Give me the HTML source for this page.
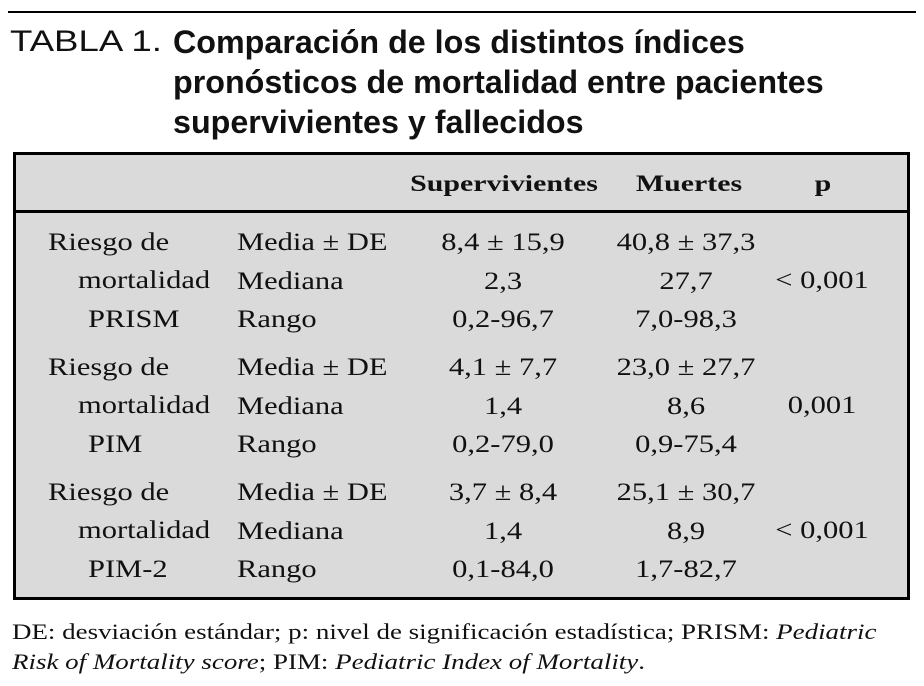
<!DOCTYPE html>
<html><head><meta charset="utf-8"><style>
body{margin:0;width:924px;height:686px;background:#fff;position:relative;overflow:hidden;font-family:"Liberation Serif",serif;color:#111}
.a{position:absolute;white-space:nowrap}
.s{font-size:25px;transform-origin:left center;transform:scaleX(1.22)}
.s.c{transform-origin:center center;transform:translateX(-50%) scaleX(1.22)}
.h{font-weight:bold;font-size:23px;transform-origin:center center;transform:translateX(-50%) scaleX(1.3)}
.t{font-family:"Liberation Sans",sans-serif}
</style></head><body>
<div style="position:absolute;left:8px;top:11px;width:908px;height:2px;background:#000"></div>
<div class="a t" style="left:10px;top:25px;font-size:30px;transform-origin:left center;transform:scaleX(1.22)">TABLA 1.</div>
<div class="a t" style="left:173px;top:22px;font-weight:bold;font-size:32px;line-height:40px;transform-origin:left top;transform:scaleX(1.008)">Comparación de los distintos índices<br>pronósticos de mortalidad entre pacientes<br>supervivientes y fallecidos</div>
<div style="position:absolute;left:13px;top:152px;width:891px;height:442px;border:3px solid #000;background:#dadada"></div>
<div style="position:absolute;left:13px;top:210px;width:897px;height:3px;background:#000"></div>
<div class="a h" style="left:504px;top:171px">Supervivientes</div>
<div class="a h" style="left:689px;top:171px">Muertes</div>
<div class="a h" style="left:823px;top:171px">p</div>
<div class="a" style="left:12px;top:617px;font-size:22px;line-height:30px;transform-origin:left top;transform:scaleX(1.225)">DE: desviación estándar; p: nivel de significación estadística; PRISM: <i>Pediatric</i><br><i>Risk of Mortality score</i>; PIM: <i>Pediatric Index of Mortality</i>.</div>
<script>
const groups=["PRISM","PIM","PIM-2"];
const statLabels=["Media ± DE","Mediana","Rango"];
const surv=[["8,4 ± 15,9","2,3","0,2-96,7"],["4,1 ± 7,7","1,4","0,2-79,0"],["3,7 ± 8,4","1,4","0,1-84,0"]];
const dead=[["40,8 ± 37,3","27,7","7,0-98,3"],["23,0 ± 27,7","8,6","0,9-75,4"],["25,1 ± 30,7","8,9","1,7-82,7"]];
const pvals=["< 0,001","0,001","< 0,001"];
const body=document.body;
function add(txt,x,y,name,center){const d=document.createElement('div');d.className='a s'+(center?' c':'');d.style.left=x+'px';d.style.top=y+'px';d.textContent=txt;


body.appendChild(d);}
groups.forEach((g,i)=>{const y0=229+i*125;
add("Riesgo de",48,y0,'group-label-line1');
add("mortalidad",78,y0+38,'group-label-line2');
add(g,88,y0+77,'group-name');
statLabels.forEach((s,j)=>{const y=y0+j*38.5;
add(s,237,y,'stat-label');
add(surv[i][j],503,y,'supervivientes-value',true);
add(dead[i][j],686,y,'muertes-value',true);});
add(pvals[i],822,y0+38,'p-value',true);});
</script>
</body></html>
